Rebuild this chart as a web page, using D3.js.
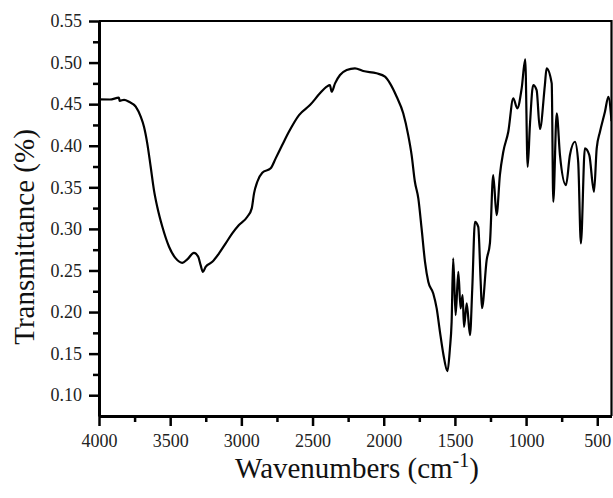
<!DOCTYPE html>
<html>
<head>
<meta charset="utf-8">
<script src="https://cdn.jsdelivr.net/npm/d3@7"></script>
<style>
  body { margin: 0; background: #fff; }
  svg { display: block; }
  svg text { font-family: "Liberation Serif", "Times New Roman", Times, "DejaVu Serif", serif; }
</style>
</head>
<body>
<div id="ir_chart"></div>
<script>

// FTIR spectrum
var wavenumber = [4000, 3923, 3860, 3855, 3824, 3789, 3742, 3707, 3684, 3661, 3637, 3614, 3591, 3555, 3508, 3461,
  3415, 3380, 3333, 3303, 3286, 3270, 3251, 3204, 3157, 3110, 3064, 3017, 2958, 2927, 2911, 2888, 2853, 2794,
  2759, 2713, 2666, 2595, 2518, 2448, 2401, 2378, 2366, 2342, 2307, 2260, 2202, 2144, 2050, 1991, 1956, 1909,
  1863, 1828, 1804, 1781, 1757, 1734, 1710, 1687, 1652, 1628, 1605, 1582, 1552, 1535, 1523, 1512, 1495, 1476,
  1460, 1446, 1436, 1417, 1394, 1378, 1359, 1336, 1319, 1310, 1277, 1254, 1231, 1207, 1184, 1160, 1125, 1090,
  1062, 1031, 1006, 989, 973, 950, 926, 903, 868, 856, 820, 809, 785, 762, 720, 692, 657, 634, 615, 587, 556,
  523, 504, 481, 446, 422, 400];
var transmittance = [0.4558, 0.4556, 0.4578, 0.4540, 0.4552, 0.4529, 0.4469, 0.4349, 0.4228, 0.4029, 0.3747,
  0.3467, 0.3266, 0.3025, 0.2785, 0.2645, 0.2592, 0.2633, 0.2712, 0.2664, 0.2564, 0.2484, 0.2544, 0.2604,
  0.2705, 0.2826, 0.2946, 0.3046, 0.3146, 0.3247, 0.3427, 0.3567, 0.3675, 0.3728, 0.3848, 0.4008, 0.4168,
  0.4369, 0.4489, 0.4630, 0.4710, 0.4730, 0.4649, 0.4750, 0.4850, 0.4910, 0.4931, 0.4898, 0.4871, 0.4830,
  0.4750, 0.4589, 0.4390, 0.4128, 0.3888, 0.3567, 0.3367, 0.3006, 0.2604, 0.2364, 0.2224, 0.2044, 0.1762,
  0.1502, 0.1289, 0.1562, 0.1882, 0.2645, 0.1963, 0.2484, 0.2044, 0.2204, 0.1822, 0.2104, 0.1722, 0.2284,
  0.3085, 0.3025, 0.2364, 0.2047, 0.2625, 0.2829, 0.3647, 0.3166, 0.3647, 0.3928, 0.4168, 0.4570, 0.4450,
  0.4690, 0.5039, 0.3747, 0.4249, 0.4730, 0.4670, 0.4201, 0.4730, 0.4931, 0.4750, 0.3326, 0.4390, 0.3888,
  0.3527, 0.3888, 0.4048, 0.3807, 0.2826, 0.3968, 0.3888, 0.3446, 0.3968, 0.4168, 0.4409, 0.4589, 0.4297];

var xTicks = [4000, 3500, 3000, 2500, 2000, 1500, 1000, 500];
var xMinor = [3750, 3250, 2750, 2250, 1750, 1250, 750];
var yTicks = [0.10, 0.15, 0.20, 0.25, 0.30, 0.35, 0.40, 0.45, 0.50, 0.55];
var yMinor = [0.125, 0.175, 0.225, 0.275, 0.325, 0.375, 0.425, 0.475, 0.525];

var serif = '"Liberation Serif", "Times New Roman", Times, "DejaVu Serif", serif';

var margin = {top: 21, right: 1.5, bottom: 82, left: 99},
  width = 613 - margin.left - margin.right,
  height = 498 - margin.top - margin.bottom;

var svg = d3.select('#ir_chart').append("svg")
  .attr("width", 613)
  .attr("height", 498)
  .append("g")
  .attr("transform", "translate(" + margin.left + "," + margin.top + ")");

var xx = d3.scaleLinear().domain([4000, 400]).range([0, width]);
var yy = d3.scaleLinear().domain([0.075, 0.55]).range([height, 0]);

var arr = wavenumber.map(function(w, i) { return {w: w, t: transmittance[i]}; });

svg.append("clipPath").attr("id", "plotclip")
  .append("rect").attr("width", width).attr("height", height);

// minor ticks first, so the labelled ones sit on top
svg.append("g")
  .attr("transform", "translate(0," + height + ")")
  .call(d3.axisBottom(xx).tickValues(xMinor).tickSize(6).tickFormat(""))
  .call(function(g) { g.select(".domain").remove(); });
svg.append("g")
  .call(d3.axisLeft(yy).tickValues(yMinor).tickSize(6).tickFormat(""))
  .call(function(g) { g.select(".domain").remove(); });

var xAxis = svg.append("g")
  .attr("transform", "translate(0," + height + ")")
  .call(d3.axisBottom(xx).tickValues(xTicks).tickSize(10).tickSizeOuter(0).tickPadding(8).tickFormat(d3.format("d")));
var yAxis = svg.append("g")
  .call(d3.axisLeft(yy).tickValues(yTicks).tickSize(10).tickSizeOuter(0).tickPadding(7).tickFormat(d3.format(".2f")));

svg.selectAll("g").attr("font-family", null);
svg.selectAll(".tick line").attr("stroke", "#000").attr("stroke-width", 2.5);
svg.selectAll(".tick text")
  .style("font-family", serif)
  .style("font-size", "18px")
  .attr("fill", "#222");
xAxis.select(".domain").attr("stroke-width", 3);
yAxis.select(".domain").attr("stroke-width", 3);

// top and right frame
svg.append("path")
  .attr("d", d3.line()([[0, 0], [width, 0], [width, height]]))
  .attr("fill", "none")
  .attr("stroke", "#000")
  .attr("stroke-width", 2.2);

svg.append("path")
  .datum(arr)
  .attr("clip-path", "url(#plotclip)")
  .attr("fill", "none")
  .attr("stroke", "#000")
  .attr("stroke-width", 2.2)
  .attr("stroke-linejoin", "round")
  .attr("d", d3.line()
    .curve(d3.curveMonotoneX)
    .x(function(d) { return xx(d.w); })
    .y(function(d) { return yy(d.t); }));

// Axis titles
var xLabel = svg.append("text")
  .attr("x", 357 - margin.left)
  .attr("y", 478 - margin.top)
  .style("text-anchor", "middle")
  .style("font-family", serif)
  .style("font-size", "29px")
  .attr("fill", "#111");
xLabel.append("tspan").text("Wavenumbers (cm");
xLabel.append("tspan").attr("dy", -11).style("font-size", "20px").text("-1");
xLabel.append("tspan").attr("dy", 11).text(")");

svg.append("text")
  .attr("transform", "rotate(-90)")
  .attr("x", -(237 - margin.top))
  .attr("y", 34 - margin.left)
  .style("text-anchor", "middle")
  .style("font-family", serif)
  .style("font-size", "29px")
  .attr("fill", "#111")
  .text("Transmittance (%)");

</script>
</body>
</html>
